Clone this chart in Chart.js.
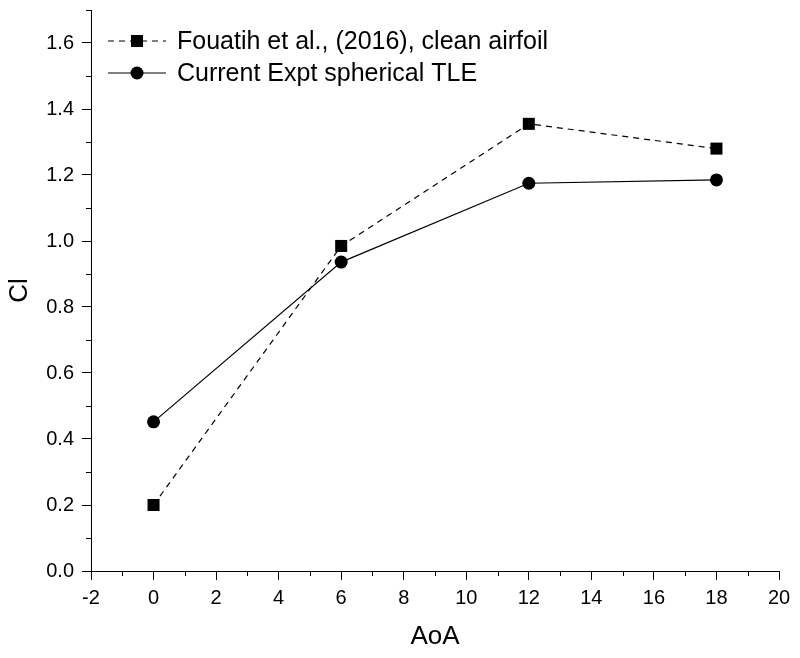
<!DOCTYPE html>
<html>
<head>
<meta charset="utf-8">
<script src="https://cdn.jsdelivr.net/npm/chart.js@4"></script>
<style>
  html, body { margin: 0; padding: 0; background: #fff; }
  #wrap { width: 800px; height: 658px; }
</style>
</head>
<body>
<div id="wrap"><canvas id="grafico" width="800" height="658"></canvas></div>
<script>
// dados
const aoa = [0, 6, 12, 18];
const clFouatih = [0.20, 0.985, 1.355, 1.28];
const clAtual = [0.452, 0.936, 1.175, 1.185];
const nomes = ['Fouatih et al., (2016), clean airfoil', 'Current Expt spherical TLE'];

const FONTE = "'Liberation Sans', Arial, sans-serif";

// ticks menores (sem suporte nativo no Chart.js)
const ticksMenores = {
  id: 'ticksMenores',
  afterDraw(chart) {
    const c = chart.ctx;
    const x = chart.scales.x, y = chart.scales.y;
    c.save();
    c.strokeStyle = '#000';
    c.lineWidth = 1;
    c.beginPath();
    for (let v = -1; v < 20; v += 2) {
      const px = Math.round(x.getPixelForValue(v)) + 0.5;
      c.moveTo(px, y.bottom);
      c.lineTo(px, y.bottom + 5);
    }
    for (let v = 0.1; v < 1.75; v += 0.2) {
      const py = Math.round(y.getPixelForValue(v)) + 0.5;
      c.moveTo(x.left, py);
      c.lineTo(x.left - 5, py);
    }
    c.stroke();
    c.restore();
  }
};

// legenda com linha - marcador - linha
const legenda = {
  id: 'legenda',
  afterDraw(chart) {
    const c = chart.ctx;
    const area = chart.chartArea;
    c.save();
    chart.data.datasets.forEach((ds, i) => {
      const x0 = area.left + 17;
      const yy = area.top + 31 + i * 32;
      c.strokeStyle = '#000';
      c.lineWidth = 1.2;
      c.setLineDash(ds.borderDash || []);
      c.beginPath();
      c.moveTo(x0, yy);
      c.lineTo(x0 + 58, yy);
      c.stroke();
      c.setLineDash([]);
      c.fillStyle = '#000';
      if (ds.pointStyle === 'rect') {
        c.fillRect(x0 + 23, yy - 6, 12, 12);
      } else {
        c.beginPath();
        c.arc(x0 + 29, yy, 6.5, 0, Math.PI * 2);
        c.fill();
      }
      c.font = '25px ' + FONTE;
      c.textBaseline = 'middle';
      c.fillText(ds.label, x0 + 69, yy + 1);
    });
    c.restore();
  }
};

const ctx = document.getElementById('grafico').getContext('2d');
const chart = new Chart(ctx, {
  type: 'line',
  data: {
    datasets: [
      {
        label: nomes[0],
        data: aoa.map((a, i) => ({ x: a, y: clFouatih[i] })),
        borderColor: '#000',
        backgroundColor: '#000',
        borderWidth: 1.2,
        borderDash: [6, 5],
        pointStyle: 'rect',
        pointRadius: 8.5,
        pointBorderWidth: 0
      },
      {
        label: nomes[1],
        data: aoa.map((a, i) => ({ x: a, y: clAtual[i] })),
        borderColor: '#000',
        backgroundColor: '#000',
        borderWidth: 1.2,
        pointStyle: 'circle',
        pointRadius: 6.5,
        pointBorderWidth: 0
      }
    ]
  },
  options: {
    responsive: false,
    animation: false,
    layout: { padding: { top: 0, right: 21, left: 0, bottom: 0 } },
    plugins: { legend: { display: false }, tooltip: { enabled: false } },
    scales: {
      x: {
        type: 'linear',
        min: -2, max: 20,
        afterFit: s => { s.height = 87; },
        border: { color: '#000', width: 1 },
        grid: { drawOnChartArea: false, color: '#000', tickLength: 9 },
        ticks: { stepSize: 2, color: '#000', padding: 6, maxRotation: 0,
                 font: { family: FONTE, size: 20 } },
        title: { display: true, text: 'AoA', color: '#000',
                 padding: { top: 0, bottom: 6 }, font: { family: FONTE, size: 26 } }
      },
      y: {
        min: 0, max: 1.7,
        afterFit: s => { s.width = 91; s.paddingTop = 10; },
        border: { color: '#000', width: 1 },
        grid: { drawOnChartArea: false, color: '#000', tickLength: 9 },
        ticks: { stepSize: 0.2, includeBounds: false, color: '#000', padding: 8,
                 font: { family: FONTE, size: 20 },
                 callback: v => v.toFixed(1) },
        title: { display: true, text: 'Cl', color: '#000',
                 padding: { top: 4, bottom: 0 }, font: { family: FONTE, size: 26 } }
      }
    }
  },
  plugins: [ticksMenores, legenda]
});
</script>
</body>
</html>
